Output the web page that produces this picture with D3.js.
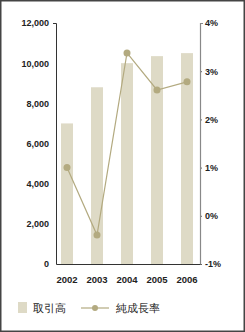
<!DOCTYPE html>
<html>
<head>
<meta charset="utf-8">
<script src="https://cdn.jsdelivr.net/npm/d3@7"></script>
<style>
  body { margin: 0; background: #fff; }
  text { font-family: "Liberation Sans", Arial, sans-serif; }
</style>
</head>
<body>
<div id="chart-area"></div>
<script>
// --- Data ---
var years = ["2002", "2003", "2004", "2005", "2006"];
var volume = [7000, 8800, 10000, 10350, 10500];      // 取引高
var growth = [1.0, -0.4, 3.38, 2.61, 2.78];           // 純成長率 (%)
var leftTicks = [0, 2000, 4000, 6000, 8000, 10000, 12000];
var rightTicks = [-1, 0, 1, 2, 3, 4];

var barColor = "#dedac6";
var lineColor = "#b3aa80";

// --- Canvas ---
var canvasWidth = 245, canvasHeight = 332;
var svg = d3.select("#chart-area").append("svg")
  .attr("width", canvasWidth)
  .attr("height", canvasHeight);

svg.append("rect")
  .attr("x", 0.75).attr("y", 0.75)
  .attr("width", canvasWidth - 1.5).attr("height", canvasHeight - 1.5)
  .attr("fill", "none")
  .attr("stroke", "#444")
  .attr("stroke-width", 1.5);

var plot = {left: 56, right: 200, top: 23, bottom: 264};

// --- Scales ---
var x = d3.scaleBand()
  .domain(years)
  .range([52, 202])
  .paddingInner(0.6)
  .paddingOuter(0.3);

var yLeft = d3.scaleLinear().domain([0, 12000]).range([plot.bottom, plot.top]);
var yRight = d3.scaleLinear().domain([-1, 4]).range([plot.bottom, plot.top]);

// --- Bars ---
svg.selectAll("rect.bar")
  .data(years)
  .enter().append("rect")
  .attr("class", "bar")
  .attr("x", function(d) { return x(d); })
  .attr("width", x.bandwidth())
  .attr("y", function(d, i) { return yLeft(volume[i]); })
  .attr("height", function(d, i) { return plot.bottom - yLeft(volume[i]); })
  .attr("fill", barColor);

// --- Axes ---
var leftAxis = d3.axisLeft(yLeft)
  .tickValues(leftTicks)
  .tickSize(0)
  .tickPadding(7)
  .tickFormat(d3.format(","));
var leftG = svg.append("g")
  .attr("transform", "translate(" + plot.left + ",0)")
  .call(leftAxis);
leftG.select(".domain").remove();
leftG.selectAll("text")
  .attr("font-size", "9px").attr("font-weight", "bold").attr("fill", "#222")
  .attr("font-family", "Liberation Sans, Arial, sans-serif");

var rightAxis = d3.axisRight(yRight)
  .tickValues(rightTicks)
  .tickSize(2)
  .tickPadding(3)
  .tickFormat(function(d) { return d + "%"; });
var rightG = svg.append("g")
  .attr("transform", "translate(" + plot.right + ",0)")
  .call(rightAxis);
rightG.select(".domain").remove();
rightG.selectAll("line").attr("stroke", "#666");
rightG.selectAll("text")
  .attr("font-size", "9px").attr("font-weight", "bold").attr("fill", "#222")
  .attr("font-family", "Liberation Sans, Arial, sans-serif");

// axis lines
svg.append("path")
  .attr("d", "M" + (plot.left - 3) + "," + (plot.top + 0.5) + "H" + (plot.left + 0.5) +
             "V" + (plot.bottom + 0.5) + "H" + (plot.right))
  .attr("fill", "none").attr("stroke", "#333").attr("stroke-width", 1);
svg.append("path")
  .attr("d", "M" + (plot.right + 0.5) + "," + plot.bottom + "V" + (plot.top + 0.5) + "H" + (plot.right + 3))
  .attr("fill", "none").attr("stroke", "#888").attr("stroke-width", 1.2);

// year labels
svg.selectAll("text.year")
  .data(years)
  .enter().append("text")
  .attr("class", "year")
  .attr("x", function(d) { return x(d) + x.bandwidth() / 2; })
  .attr("y", 283)
  .attr("text-anchor", "middle")
  .attr("font-size", "9.5px")
  .attr("font-weight", "bold")
  .attr("fill", "#222")
  .text(function(d) { return d; });

// --- Growth line ---
var line = d3.line()
  .x(function(d, i) { return x(years[i]) + x.bandwidth() / 2; })
  .y(function(d) { return yRight(d); });

svg.append("path")
  .datum(growth)
  .attr("d", line)
  .attr("fill", "none")
  .attr("stroke", lineColor)
  .attr("stroke-width", 1.2);

svg.selectAll("circle.pt")
  .data(growth)
  .enter().append("circle")
  .attr("class", "pt")
  .attr("cx", function(d, i) { return x(years[i]) + x.bandwidth() / 2; })
  .attr("cy", function(d) { return yRight(d); })
  .attr("r", 3.5)
  .attr("fill", lineColor);

// --- Legend ---
var legend = svg.append("g");
legend.append("rect")
  .attr("x", 18).attr("y", 302)
  .attr("width", 9).attr("height", 11)
  .attr("fill", barColor);
legend.append("text")
  .attr("x", 33).attr("y", 312)
  .attr("font-size", "11px")
  .attr("font-family", "Noto Sans CJK JP, sans-serif")
  .attr("fill", "#222")
  .text("取引高");
legend.append("line")
  .attr("x1", 81).attr("x2", 109)
  .attr("y1", 308).attr("y2", 308)
  .attr("stroke", lineColor).attr("stroke-width", 1.2);
legend.append("circle")
  .attr("cx", 95).attr("cy", 308).attr("r", 3)
  .attr("fill", lineColor);
legend.append("text")
  .attr("x", 116).attr("y", 312)
  .attr("font-size", "11px")
  .attr("font-family", "Noto Sans CJK JP, sans-serif")
  .attr("fill", "#222")
  .text("純成長率");
</script>
</body>
</html>
